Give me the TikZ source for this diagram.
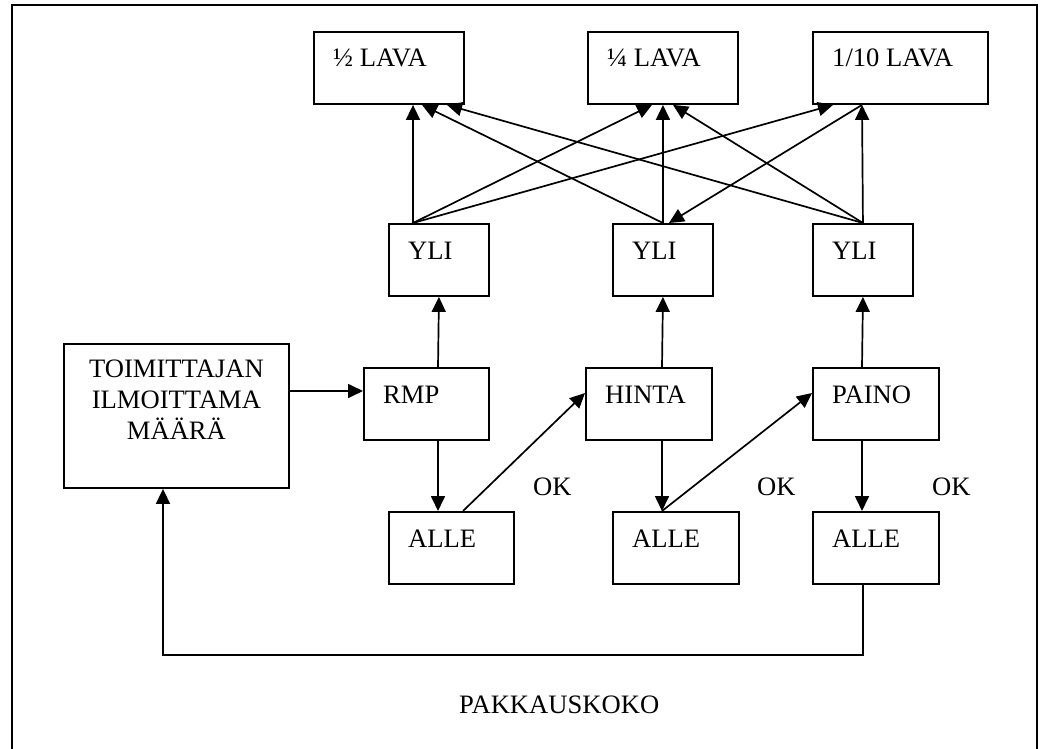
\documentclass[tikz,border=0pt]{standalone}
\usepackage{fontspec}
\setmainfont{Liberation Serif}
\usetikzlibrary{arrows.meta,calc}
\begin{document}
\begin{tikzpicture}[x=1pt,y=-1pt,
  txt/.style={inner sep=0pt,font=\fontsize{26.6}{31}\selectfont},
  box/.style={draw,line width=1.9pt,inner sep=0pt,anchor=north west,
    minimum width=#1,minimum height=72pt},
  box/.default=126pt,
  tl/.style={txt,anchor=base west,xshift=20pt,yshift=-36pt},
  arr/.style={line width=1.7pt,-{Triangle[length=15pt,width=14pt]}},
  frame/.style={line width=2.4pt}]
\useasboundingbox (0,0) rectangle (1044,749);

% outer frame (open at the bottom edge)
\draw[frame] (12,749) -- (12,5) -- (1037,5) -- (1037,749);

% pallet sizes
\node[box=150pt,label={[tl]north west:½ LAVA}]   (half)    at (313,31) {};
\node[box=150pt,label={[tl]north west:¼ LAVA}]   (quarter) at (587,31) {};
\node[box=175pt,label={[tl]north west:1/10 LAVA}] (tenth)  at (812,31) {};

% over-limit boxes
\node[box=100pt,label={[tl]north west:YLI}] (yli1) at (388,223) {};
\node[box=100pt,label={[tl]north west:YLI}] (yli2) at (612,223) {};
\node[box=100pt,label={[tl]north west:YLI}] (yli3) at (812,223) {};

% checks
\node[box=225pt,minimum height=144pt,
  label={[txt,align=center,anchor=north,yshift=-16.5pt]north:{TOIMITTAJAN\\ILMOITTAMA\\MÄÄRÄ}}]
  (toim) at (63,343) {};
\node[box=125pt,label={[tl]north west:RMP}]   (rmp)   at (363,367) {};
\node[box,label={[tl]north west:HINTA}]       (hinta) at (585,367) {};
\node[box,label={[tl]north west:PAINO}]       (paino) at (812,367) {};

% under-limit boxes
\node[box=125pt,label={[tl]north west:ALLE}] (alle1) at (388,511) {};
\node[box,label={[tl]north west:ALLE}]       (alle2) at (612,511) {};
\node[box,label={[tl]north west:ALLE}]       (alle3) at (812,511) {};

% labels
\node[txt,anchor=base west] (ok1) at (533,495) {OK};
\node[txt,anchor=base west] (ok2) at (757,495) {OK};
\node[txt,anchor=base west] (ok3) at (932,495) {OK};
\node[txt,anchor=base west] (title) at (459,713) {PAKKAUSKOKO};

% YLI -> pallet sizes
\draw[arr] ($(yli1.north west)+(25,0)$) -- ($(half.south west)+(100,0)$);
\draw[arr] ($(yli1.north west)+(25,0)$) -- ($(quarter.south west)+(65,0)$);
\draw[arr] ($(yli1.north west)+(25,0)$) -- ($(tenth.south west)+(21,0)$);
\draw[arr] (yli2.north) -- ($(half.south west)+(109,0)$);
\draw[arr] (yli2.north) -- (quarter.south);
\draw[arr] ($(tenth.south west)+(50,0)$) -- ($(yli2.north)+(6,0)$);
\draw[arr] (yli3.north) -- ($(half.south west)+(134,0)$);
\draw[arr] (yli3.north) -- ($(quarter.south west)+(86,0)$);
\draw[arr] (yli3.north) -- ($(tenth.south west)+(50,0)$);

% check chain
\draw[arr] ($(toim.north east)+(0,48)$) -- ($(rmp.north west)+(0,24)$);
\draw[arr] ($(rmp.north west)+(75,0)$) -- (yli1.south);
\draw[arr] ($(rmp.south west)+(75,0)$) -- ($(alle1.north west)+(50,0)$);
\draw[arr] ($(alle1.north west)+(75,0)$) -- ($(hinta.north west)+(0,26)$);
\draw[arr] ($(hinta.north west)+(77,0)$) -- (yli2.south);
\draw[arr] ($(hinta.south west)+(77,0)$) -- ($(alle2.north west)+(50,0)$);
\draw[arr] ($(alle2.north west)+(50,0)$) -- ($(paino.north west)+(0,26)$);
\draw[arr] ($(paino.north west)+(50,0)$) -- (yli3.south);
\draw[arr] ($(paino.south west)+(50,0)$) -- ($(alle3.north west)+(50,0)$);

% feedback loop
\coordinate (fb) at (163,655);
\draw[arr] ($(alle3.south west)+(51,0)$) |- (fb) -- ($(toim.south west)+(100,0)$);
\end{tikzpicture}
\end{document}
